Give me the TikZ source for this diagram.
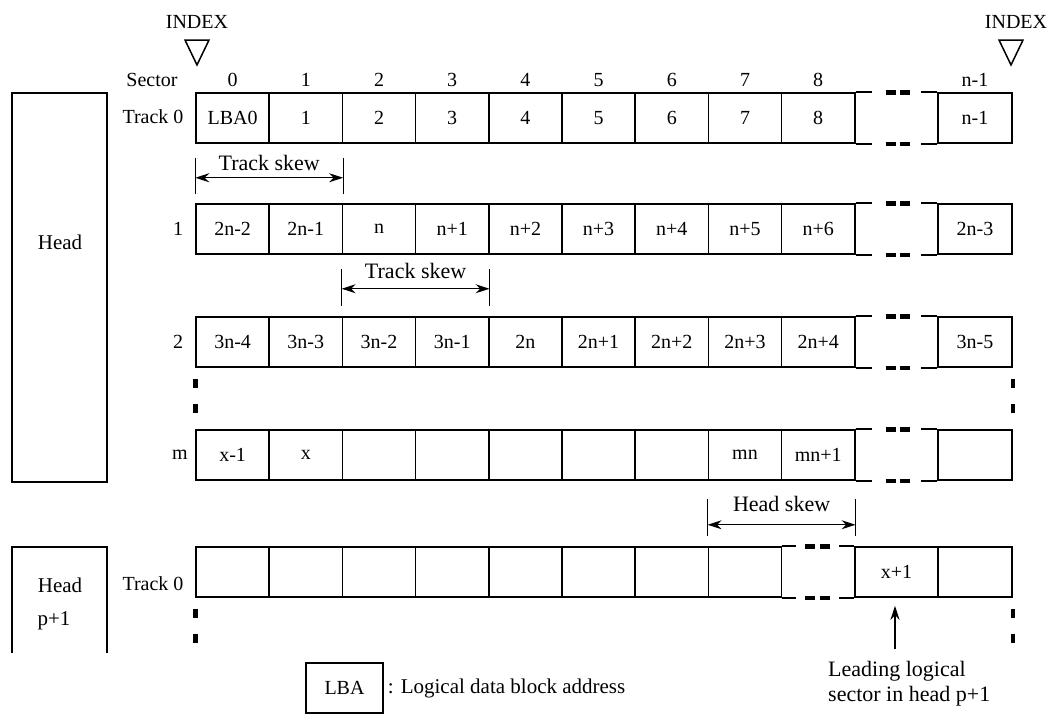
\documentclass[tikz,border=0pt]{standalone}
\usepackage{fontspec}
\setmainfont{Liberation Serif}
\usetikzlibrary{arrows.meta,calc}
\begin{document}
\begin{tikzpicture}[x=1pt,y=-1pt,
  every node/.style={font=\fontsize{20}{25}\selectfont, text=black},
  big/.style={font=\fontsize{22}{25}\selectfont},
  mid/.style={font=\fontsize{21}{25}\selectfont},
  cell/.style={draw, line width=1.5pt, minimum width=73.2pt, minimum height=50pt, inner sep=0pt},
  box/.style={draw, line width=1.5pt},
  hline/.style={line width=1.6pt},
  dashmark/.style={line width=4.5pt},
  tick/.style={line width=1.2pt},
  dim/.style={line width=1.2pt, {Stealth[length=14pt,width=9pt]}-{Stealth[length=14pt,width=9pt]}},
  up/.style={line width=1.2pt, -{Stealth[length=14pt,width=9pt]}}
]
\useasboundingbox (0,0) rectangle (1054,721);

% INDEX marks
\coordinate (idxL) at (197,65);
\coordinate (idxR) at (1011,65);
\node (idxLtxt) at (197,22) {INDEX};
\node (idxRtxt) at (1016,22) {INDEX};
\draw[line width=1.5pt, line join=miter] (idxL) -- ++(-12,-25) -- ++(24,0) -- cycle;
\draw[line width=1.5pt, line join=miter] (idxR) -- ++(-12,-25) -- ++(24,0) -- cycle;

% sector header
\node (sector) at (152,80) {Sector};
\foreach \i in {0,...,8} { \node (sec\i) at (232.6+73.2*\i,80) {\i}; }
\node (secn) at (975,80) {n-1};

% head boxes
\node[box, minimum width=95pt, minimum height=389pt, inner sep=0pt] (head) at (59.5,287.5) {};
\node[mid] (headlbl) at (60,242) {Head};
\coordinate (h2tl) at (12,547);
\coordinate (h2tr) at (107,547);
\draw[line width=1.5pt] ($(h2tl)+(0,106)$) -- (h2tl) -- (h2tr) -- ($(h2tr)+(0,106)$);
\node[mid] (head2a) at (60,585) {Head};
\node[mid] (head2b) at (54,621) {p+1};

% row labels
\node (lt0) at (153,117) {Track 0};
\node (l1) at (178,229) {1};
\node (l2) at (178,342) {2};
\node (lm) at (180,455) {m};
\node (lp0) at (153,584) {Track 0};

% rows
\foreach \t [count=\i from 0] in {LBA0,1,2,3,4,5,6,7,8}
  \node[cell] (r0c\i) at (232.6+73.2*\i,118) {\t};
\node[cell, minimum width=74pt] (r0last) at (975,118) {n-1};

\foreach \t [count=\i from 0] in {2n-2,2n-1,n,n+1,n+2,n+3,n+4,n+5,n+6}
  \node[cell] (r1c\i) at (232.6+73.2*\i,229) {\t};
\node[cell, minimum width=74pt] (r1last) at (975,229) {2n-3};

\foreach \t [count=\i from 0] in {3n-4,3n-3,3n-2,3n-1,2n,2n+1,2n+2,2n+3,2n+4}
  \node[cell] (r2c\i) at (232.6+73.2*\i,342) {\t};
\node[cell, minimum width=74pt] (r2last) at (975,342) {3n-5};

\foreach \t [count=\i from 0] in {x-1,x,{},{},{},{},{},mn,mn+1}
  \node[cell] (rmc\i) at (232.6+73.2*\i,455) {\t};
\node[cell, minimum width=74pt] (rmlast) at (975,455) {};

\foreach \i in {0,...,7}
  \node[cell] (rpc\i) at (232.6+73.2*\i,572) {};
\node[cell, minimum width=83pt] (rpx) at (896.5,572) {x+1};
\node[cell, minimum width=74pt] (rplast) at (975,572) {};

% gaps with dash marks
\foreach \r in {0,1,2,m} {
  \foreach \a/\b in {north east/north west, south east/south west} {
    \draw[hline] (r\r c8.\a) -- ($(r\r c8.\a)+(16,0)$);
    \draw[hline] (r\r last.\b) -- ($(r\r last.\b)+(-16,0)$);
    \draw[dashmark] ($(r\r c8.\a)+(30,0)$) -- ($(r\r c8.\a)+(40,0)$);
    \draw[dashmark] ($(r\r c8.\a)+(44,0)$) -- ($(r\r c8.\a)+(54,0)$);
  }
}
\foreach \a/\b in {north east/north west, south east/south west} {
  \draw[hline] (rpc7.\a) -- ($(rpc7.\a)+(14,0)$);
  \draw[hline] (rpx.\b) -- ($(rpx.\b)+(-15,0)$);
  \draw[dashmark] ($(rpc7.\a)+(23,0)$) -- ($(rpc7.\a)+(33,0)$);
  \draw[dashmark] ($(rpc7.\a)+(38,0)$) -- ($(rpc7.\a)+(48,0)$);
}

% vertical continuation dots
\foreach \n/\c in {r2c0/south west, r2last/south east, rpc0/south west, rplast/south east} {
  \draw[dashmark] ($(\n.\c)+(0,11)$) -- ($(\n.\c)+(0,20)$);
  \draw[dashmark] ($(\n.\c)+(0,36)$) -- ($(\n.\c)+(0,45)$);
}

% track skew 1
\draw[tick] ($(r0c0.south west)+(0,14)$) -- ($(r0c0.south west)+(0,50)$);
\draw[tick] ($(r0c1.south east)+(0,14)$) -- ($(r0c1.south east)+(0,50)$);
\draw[dim] ($(r0c0.south west)+(0,34)$) -- ($(r0c1.south east)+(0,34)$);
\node[big] (ts1) at ($(r0c0.south west)!.5!(r0c1.south east)+(0,19)$) {Track skew};

% track skew 2
\draw[tick] ($(r1c2.south west)+(0,14)$) -- ($(r1c2.south west)+(0,51)$);
\draw[tick] ($(r1c3.south east)+(0,14)$) -- ($(r1c3.south east)+(0,51)$);
\draw[dim] ($(r1c2.south west)+(0,34)$) -- ($(r1c3.south east)+(0,34)$);
\node[big] (ts2) at ($(r1c2.south west)!.5!(r1c3.south east)+(0,16)$) {Track skew};

% head skew
\draw[tick] ($(rmc7.south west)+(0,18)$) -- ($(rmc7.south west)+(0,55)$);
\draw[tick] ($(rmc8.south east)+(0,18)$) -- ($(rmc8.south east)+(0,55)$);
\draw[dim] ($(rmc7.south west)+(0,44)$) -- ($(rmc8.south east)+(0,44)$);
\node[big] (hs) at ($(rmc7.south west)!.5!(rmc8.south east)+(0,23)$) {Head skew};

% leading logical sector
\node[big, anchor=north west, inner sep=0pt, align=left] (lead) at (828,661) {Leading logical\\sector in head p+1};
\coordinate (leadtop) at ($(rpx.south)+(-1.5,51)$);
\draw[up] (leadtop) -- ($(rpx.south)+(-1.5,8)$);

% legend
\node[box, minimum width=77pt, minimum height=50pt, inner sep=0pt] (lba) at (344.5,688) {LBA};
\node[mid, anchor=west, inner sep=0pt] (lbatxt) at ($(lba.east)+(4,0)$) {: Logical data block address};
\end{tikzpicture}
\end{document}
